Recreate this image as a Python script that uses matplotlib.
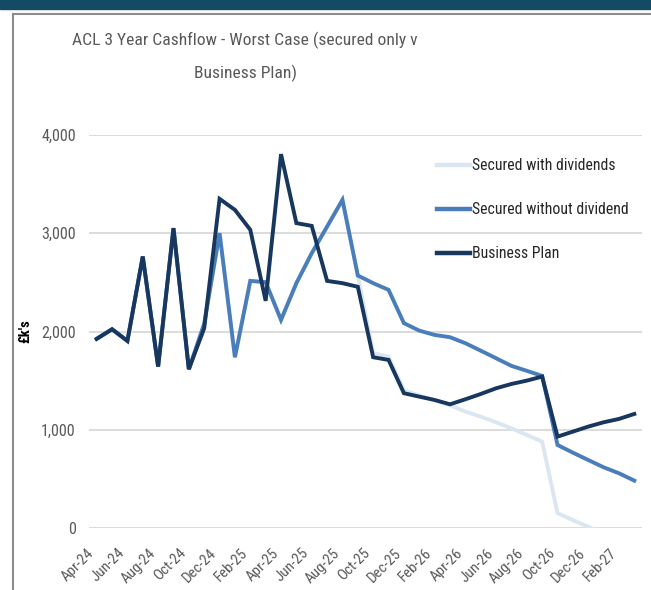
import matplotlib
matplotlib.use("Agg")
import matplotlib.pyplot as plt
from matplotlib import font_manager
from matplotlib.patches import Rectangle
from matplotlib.lines import Line2D
import numpy as np

# prefer a condensed face, fall back to Lato
names = set(f.name for f in font_manager.fontManager.ttflist)
font = 'Lato'
for cand in ['Roboto Condensed', 'Liberation Sans Narrow', 'Open Sans Condensed']:
    if cand in names:
        font = cand
        break
plt.rcParams['font.family'] = [font, 'DejaVu Sans']

months = ['Apr-24', 'May-24', 'Jun-24', 'Jul-24', 'Aug-24', 'Sep-24', 'Oct-24', 'Nov-24',
          'Dec-24', 'Jan-25', 'Feb-25', 'Mar-25', 'Apr-25', 'May-25', 'Jun-25', 'Jul-25',
          'Aug-25', 'Sep-25', 'Oct-25', 'Nov-25', 'Dec-25', 'Jan-26', 'Feb-26', 'Mar-26',
          'Apr-26', 'May-26', 'Jun-26', 'Jul-26', 'Aug-26', 'Sep-26', 'Oct-26', 'Nov-26',
          'Dec-26', 'Jan-27', 'Feb-27', 'Mar-27']

business_plan = [1925, 2023, 1904, 2763, 1643, 3052, 1616, 2034, 3350, 3238, 3035, 2312,
                 3805, 3103, 3075, 2515, 2492, 2455, 1738, 1711, 1372, 1337, 1303, 1259,
                 1310, 1364, 1422, 1466, 1500, 1541, 930, 981, 1032, 1076, 1110, 1161]

secured_no_div = [1925, 2023, 1904, 2763, 1643, 3052, 1616, 2080, 3001, 1738, 2515, 2502,
                  2118, 2492, 2797, 3068, 3340, 2570, 2492, 2424, 2085, 2009, 1965, 1942,
                  1881, 1805, 1728, 1650, 1600, 1548, 845, 767, 692, 618, 557, 482]

secured_div = [1925, 2023, 1904, 2763, 1643, 3052, 1616, 2080, 3001, 1738, 2515, 2502,
               2118, 2492, 2797, 3068, 3340, 2570, 1780, 1745, 1400, 1350, 1300, 1250,
               1185, 1134, 1076, 1015, 947, 879, 150, 81, 13, -55, -125, -195]

series_names = ['Secured with dividends', 'Secured without dividend', 'Business Plan']
colors = ['#dce6f2', '#4a7ebb', '#17375e']

fig = plt.figure(figsize=(6.51, 5.90), dpi=100)
W, H = 651, 590

# header band and frame
fig.patches.append(Rectangle((0, 1 - 9 / H), 1, 9 / H, transform=fig.transFigure,
                             color='#134a66', zorder=0))
fig.add_artist(Line2D([13 / W, 1], [1 - 14 / H, 1 - 14 / H], transform=fig.transFigure,
                      color='#8c8c8c', lw=1.5))
fig.add_artist(Line2D([13 / W, 13 / W], [0, 1 - 14 / H], transform=fig.transFigure,
                      color='#8c8c8c', lw=1.5))

ax = fig.add_axes([89 / W, 62 / H, (642 - 89) / W, (528 - 135) / H])
x = np.arange(len(months))
for vals, name, c in zip([secured_div, secured_no_div, business_plan], series_names, colors):
    ax.plot(x, vals, color=c, lw=2.8, label=name, solid_joinstyle='miter')

ax.set_xlim(-0.5, 35.5)
ax.set_ylim(0, 4000)
ax.set_yticks(range(0, 4001, 1000))
ax.set_yticklabels(['0', '1,000', '2,000', '3,000', '4,000'])
ax.set_xticks(x[::2])
ax.set_xticklabels(months[::2], rotation=45, ha='right')
ax.tick_params(axis='y', length=0, pad=9.5, labelsize=11.5, labelcolor='#595959')
ax.tick_params(axis='x', length=0, pad=13, labelsize=10.8, labelcolor='#595959')
ax.grid(axis='y', color='#d9d9d9', lw=1.3)
ax.set_axisbelow(True)
for s in ax.spines.values():
    s.set_visible(False)

ax.set_ylabel("£k's", fontweight='bold', fontsize=10.5, color='#000000')
ax.yaxis.set_label_coords(-0.103, 0.5)

fig.text(245 / W, 1 - 40 / H, 'ACL 3 Year Cashflow - Worst Case (secured only v',
         ha='center', va='center', fontsize=12.6, color='#595959')
fig.text(245 / W, 1 - 73 / H, 'Business Plan)', ha='center', va='center',
         fontsize=12.6, color='#595959')

leg = ax.legend(loc='upper left', bbox_to_anchor=(437 / W, 1 - 158 / H),
                bbox_transform=fig.transFigure, frameon=False, fontsize=11.3,
                borderpad=0, borderaxespad=0, handlelength=2.1, handletextpad=0.15,
                labelspacing=1.85, labelcolor='#262626')
for h in leg.get_lines():
    h.set_linewidth(3.2)

fig.savefig('out.png', dpi=100)
